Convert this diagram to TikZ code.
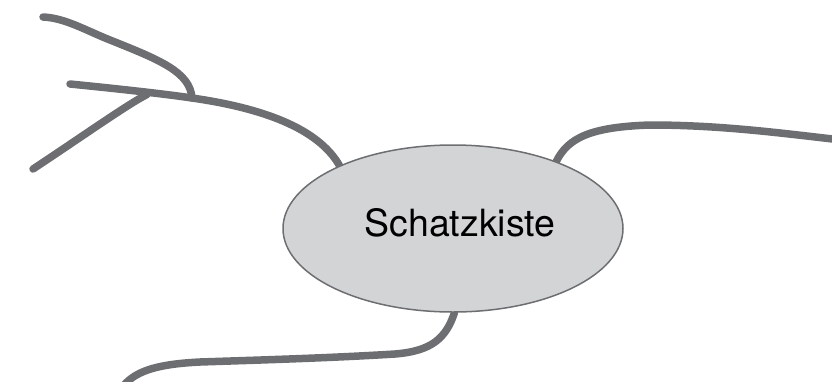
\documentclass[tikz,border=0pt]{standalone}
\usepackage{fontspec}
\setmainfont{TeX Gyre Heros}
\usetikzlibrary{shapes.geometric,backgrounds}
\definecolor{branchgray}{HTML}{6D6E71}
\definecolor{bubblefill}{HTML}{D3D4D6}
\tikzset{
  topic/.style={ellipse, draw=branchgray, line width=1.5pt, fill=bubblefill,
    minimum width=340pt, minimum height=167pt, inner sep=0pt},
  branch/.style={draw=branchgray, line width=7.5pt, line cap=round, line join=round},
  caption/.style={font=\fontsize{37.5}{45}\selectfont, text=black, inner sep=0pt}
}
\begin{document}
\begin{tikzpicture}[x=1pt,y=-1pt]
  \useasboundingbox (0,0) rectangle (832,381);

  % central topic
  \node[topic] (k) at (453,228.5) {};
  \node[caption] (title) at (460,223) {Schatzkiste};

  % junctions and free ends of the branches
  \coordinate (j1) at (192,98);
  \coordinate (j2) at (147,94.5);
  \coordinate (a1) at (70,84);
  \coordinate (a2) at (43,17);
  \coordinate (a3) at (33,169);
  \coordinate (r1) at (837,139.5);
  \coordinate (b1) at (125,384);

  \begin{scope}[on background layer]
    % upper left branch with its two twigs
    \draw[branch] (k.151) .. controls (318,128) and (262,108) .. (j1)
                          .. controls (165,94) and (120,89) .. (a1);
    \draw[branch] (j1) .. controls (190,72) and (160,60) .. (110,40)
                       .. controls (85,30) and (65,18) .. (a2);
    \draw[branch] (j2) .. controls (128,104) and (80,138) .. (a3);
    % right branch
    \draw[branch] (k.33) .. controls (568,138) and (590,127) .. (650,125)
                         .. controls (720,125) and (780,133) .. (r1);
    % bottom branch
    \draw[branch] (k.271) .. controls (446,338) and (432,351) .. (395,354)
                          .. controls (330,358) and (260,360) .. (200,362)
                          .. controls (160,364) and (138,370) .. (b1);
  \end{scope}
\end{tikzpicture}
\end{document}
